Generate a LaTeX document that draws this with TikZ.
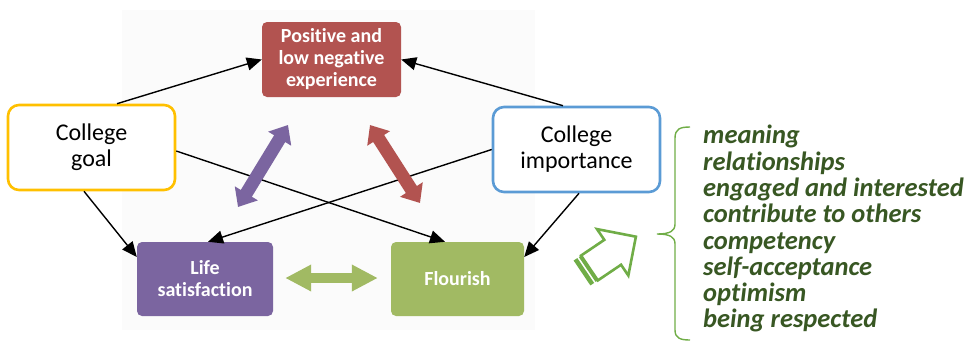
\documentclass[tikz,border=0pt]{standalone}
\usepackage{fontspec}
\setmainfont{Carlito}[Ligatures=NoCommon]
\usetikzlibrary{arrows.meta}
\definecolor{goalyellow}{HTML}{FFC000}
\definecolor{impblue}{HTML}{5B9BD5}
\definecolor{expred}{RGB}{178,83,80}
\definecolor{lifepurple}{RGB}{123,101,160}
\definecolor{flgreen}{RGB}{161,186,99}
\definecolor{brightgreen}{HTML}{70AD47}
\definecolor{listgreen}{RGB}{56,87,35}
\tikzset{
  outlinebox/.style={draw, line width=2.6pt, rounded corners=11pt, fill=white,
    minimum width=167pt, minimum height=85pt, align=center,
    font=\fontsize{24}{26}\selectfont},
  solidbox/.style={rounded corners=5pt, text=white, align=center,
    font=\bfseries\fontsize{20}{22}\selectfont, inner sep=0pt},
  link/.style={line width=1.4pt, -{Triangle[length=15pt,width=13pt]}},
  twoway/.style={line width=13pt,
    {Triangle[length=16pt,width=26pt]}-{Triangle[length=16pt,width=26pt]}},
}
\begin{document}
\begin{tikzpicture}[x=1pt,y=-1pt]
\useasboundingbox (0,0) rectangle (968,341);
% light panel behind the model
\fill[black!1.5] (122,10) rectangle (535,330);

% boxes
\node[outlinebox, draw=goalyellow] (cg) at (91.5,147.5) {College\\goal};
\node[outlinebox, draw=impblue] (ci) at (576.5,149.5) {College\\importance};
\node[solidbox, fill=expred, minimum width=139pt, minimum height=75pt] (pos)
  at (331.5,59.5) {Positive and\\low negative\\experience};
\node[solidbox, fill=lifepurple, minimum width=136pt, minimum height=74pt] (ls)
  at (205,279) {Life\\satisfaction};
\node[solidbox, fill=flgreen, minimum width=133pt, minimum height=74pt] (fl)
  at (457.5,279) {Flourish};

% directed links
\draw[link] ([xshift=25.5pt]cg.north) -- (pos.west);
\draw[link] ([xshift=-13.5pt]ci.north) -- (pos.east);
\draw[link] ([yshift=-3.5pt]cg.east) -- ([xshift=-12.5pt]fl.north);
\draw[link] (ci.west) -- ([xshift=3pt]ls.north);
\draw[link] ([xshift=-7.5pt]cg.south) -- ([yshift=22pt]ls.west);
\draw[link] ([xshift=2.5pt]ci.south) -- ([yshift=22pt]fl.east);

% two-way relations
\coordinate (pa) at (238,207);
\coordinate (pb) at (288,125);
\coordinate (ra) at (370,125);
\coordinate (rb) at (420,203);
\draw[twoway, lifepurple] (pa) -- (pb);
\draw[twoway, expred] (ra) -- (rb);
\draw[line width=10pt, flgreen,
  {Triangle[length=26pt,width=25pt]}-{Triangle[length=26pt,width=25pt]},
  shorten <=12pt, shorten >=13pt] ([yshift=1pt]ls.east) -- ([yshift=1pt]fl.west);

% striped hollow arrow
\begin{scope}[shift={(582,273)}, rotate=34]
  \fill[brightgreen] (0,-15) rectangle (4.5,15);
  \fill[brightgreen] (6.3,-15) rectangle (9,15);
  \draw[brightgreen, line width=2.6pt, fill=white, line join=miter]
    (9,-15) -- (37,-15) -- (37,-28) -- (65,0) -- (37,28) -- (37,15) -- (9,15) -- cycle;
\end{scope}

% brace
\draw[brightgreen, line width=1.4pt]
  (690,127) .. controls (680,127) and (675,129) .. (675,138) -- (675,224)
  .. controls (675,231) and (670,234) .. (657,234)
  .. controls (670,234) and (675,237) .. (675,244) -- (675,330)
  .. controls (675,338) and (680,340) .. (690,340);

% list of flourishing facets
\node[anchor=north west, align=left, inner sep=0pt, text=listgreen,
  font=\bfseries\itshape\fontsize{26.5}{26.3}\selectfont] (facets) at (703,125)
  {meaning\\relationships\\engaged and interested\\contribute to others\\competency\\self-acceptance\\optimism\\being respected};
\end{tikzpicture}
\end{document}
